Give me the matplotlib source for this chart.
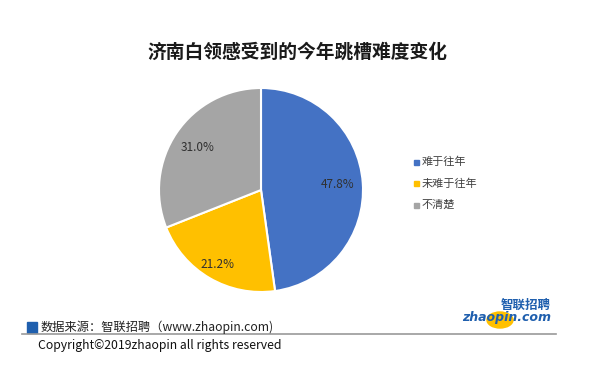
import numpy as np
import matplotlib
matplotlib.use('Agg')
import matplotlib.pyplot as plt
from matplotlib.patches import Rectangle, Circle

plt.rcParams['font.family'] = ['Noto Sans CJK SC', 'DejaVu Sans']

title = '济南白领感受到的今年跳槽难度变化'
labels = ['难于往年', '未难于往年', '不清楚']
values = [47.8, 21.2, 31.0]
colors = ['#4472C4', '#FFC000', '#A5A5A5']
pct_dist = [0.75, 0.85, 0.75]

W, H = 603, 371
fig = plt.figure(figsize=(W/100, H/100), dpi=100)

# pie axes in pixel coords: center (261,190), r=102
cx, cy, r = 261, 190, 102
ax = fig.add_axes([(cx-r)/W, (H-cy-r)/H, 2*r/W, 2*r/H])
wedges, _ = ax.pie(values, colors=colors, startangle=90, counterclock=False,
                   wedgeprops=dict(edgecolor='white', linewidth=1.5))
for w, v, d in zip(wedges, values, pct_dist):
    ang = np.deg2rad((w.theta1 + w.theta2)/2)
    ax.text(d*np.cos(ang), d*np.sin(ang), f'{v:.1f}%', ha='center', va='center',
            fontsize=8.5, color='#303030')
ax.set_xlim(-1, 1)
ax.set_ylim(-1, 1)
ax.set_aspect('equal')
ax.axis('off')

fig.text(297/W, 1-52/H, title, ha='center', va='center', fontsize=13.5,
         fontweight='bold', color='#1a1a1a')

# legend
for i, (lab, c) in enumerate(zip(labels, colors)):
    y = 1 - (162 + i*21.5)/H
    fig.patches.append(Rectangle((414/W, y-2.5/H), 5/W, 5/H, transform=fig.transFigure,
                                 color=c, figure=fig))
    fig.text(422/W, y, lab, ha='left', va='center', fontsize=8, color='#404040')

# footer
fig.patches.append(Rectangle((27/W, 1-333/H), 10/W, 11/H, transform=fig.transFigure,
                             color='#1F5FAE', figure=fig))
fig.text(41/W, 1-327/H, '数据来源：智联招聘（www.zhaopin.com)', ha='left', va='center',
         fontsize=8.8, color='#222222')
fig.add_artist(plt.Line2D([22/W, 556/W], [1-334/H, 1-334/H], color='#999999', lw=1.2))
fig.text(38/W, 1-346/H, 'Copyright©2019zhaopin all rights reserved', ha='left',
         va='center', fontsize=8.8, color='#111111')

# logo
fig.patches.append(Circle((500/W, 1-320/H), 13/W, transform=fig.transFigure,
                          color='#FFC000', figure=fig, zorder=0))
fig.text(526/W, 1-305/H, '智联招聘', ha='center', va='center', fontsize=9,
         fontweight='bold', style='italic', color='#1F5FAE')
fig.text(507/W, 1-318/H, 'zhaopin.com', ha='center', va='center', fontsize=9,
         fontweight='bold', style='italic', color='#1F5FAE', family='DejaVu Sans')

fig.savefig('out.png', dpi=100)
